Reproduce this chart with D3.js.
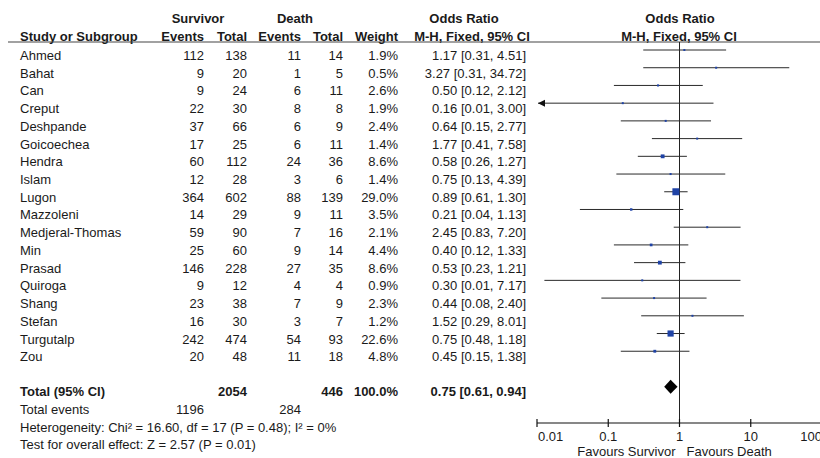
<!DOCTYPE html>
<html>
<head>
<meta charset="utf-8">
<script src="https://cdn.jsdelivr.net/npm/d3@7"></script>
<style>
  body { margin: 0; background: #fff; }
  svg text { font-family: Arial, "Liberation Sans", sans-serif; font-size: 13px; fill: #1a1a1a; }
  .bold { font-weight: bold; }
</style>
</head>
<body>
<svg id="main" width="820" height="458"></svg>
<script>
// data
var studies = ["Ahmed", "Bahat", "Can", "Creput", "Deshpande", "Goicoechea", "Hendra", "Islam", "Lugon",
  "Mazzoleni", "Medjeral-Thomas", "Min", "Prasad", "Quiroga", "Shang", "Stefan", "Turgutalp", "Zou"];
var survivorEvents = [112, 9, 9, 22, 37, 17, 60, 12, 364, 14, 59, 25, 146, 9, 23, 16, 242, 20];
var survivorTotal = [138, 20, 24, 30, 66, 25, 112, 28, 602, 29, 90, 60, 228, 12, 38, 30, 474, 48];
var deathEvents = [11, 1, 6, 8, 6, 6, 24, 3, 88, 9, 7, 9, 27, 4, 7, 3, 54, 11];
var deathTotal = [14, 5, 11, 8, 9, 11, 36, 6, 139, 11, 16, 14, 35, 4, 9, 7, 93, 18];
var weights = [1.9, 0.5, 2.6, 1.9, 2.4, 1.4, 8.6, 1.4, 29.0, 3.5, 2.1, 4.4, 8.6, 0.9, 2.3, 1.2, 22.6, 4.8];
var oddsRatio = [1.17, 3.27, 0.50, 0.16, 0.64, 1.77, 0.58, 0.75, 0.89, 0.21, 2.45, 0.40, 0.53, 0.30, 0.44, 1.52, 0.75, 0.45];
// Creput and Quiroga lower bounds print as 0.01 but sit either side of the axis limit
var ciLower = [0.31, 0.31, 0.12, 0.0085, 0.15, 0.41, 0.26, 0.13, 0.61, 0.04, 0.83, 0.12, 0.23, 0.0127, 0.08, 0.29, 0.48, 0.15];
var ciUpper = [4.51, 34.72, 2.12, 3.00, 2.77, 7.58, 1.27, 4.39, 1.30, 1.13, 7.20, 1.33, 1.21, 7.17, 2.40, 8.01, 1.18, 1.38];

var total = { survivor: 2054, death: 446, weight: 100.0, or: 0.75, lower: 0.61, upper: 0.94 };
var totalEvents = [1196, 284];
var footnotes = [
  "Heterogeneity: Chi\u00b2 = 16.60, df = 17 (P = 0.48); I\u00b2 = 0%",
  "Test for overall effect: Z = 2.57 (P = 0.01)"
];
var tickValues = [0.01, 0.1, 1, 10, 100];
var tickLabels = ["0.01", "0.1", "1", "10", "100"];

var svg = d3.select("#main");
var f2 = d3.format(".2f");
var f1 = d3.format(".1f");

// column right edges
var col = { name: 20, sEv: 204, sTot: 247, dEv: 301, dTot: 343, weight: 398, or: 526 };

var x = d3.scaleLog().domain([0.01, 100]).range([537, 822]);
var rowStep = 17.72;
function rowY(i) { return 50 + i * rowStep; }
var textDy = 10;
var boxSize = d3.scaleSqrt().domain([0, 29]).range([0, 7]);

var axisY = 423;
var headerLine = 42;

function txt(x0, y0, s, anchor, bold) {
  return svg.append("text")
    .attr("x", x0).attr("y", y0)
    .attr("text-anchor", anchor || "start")
    .attr("class", bold ? "bold" : null)
    .text(s);
}

// headers
txt(198, 23, "Survivor", "middle", true);
txt(295, 23, "Death", "middle", true);
txt(464, 23, "Odds Ratio", "middle", true);
txt(680, 23, "Odds Ratio", "middle", true);
txt(col.name, 41, "Study or Subgroup", "start", true);
txt(col.sEv, 41, "Events", "end", true);
txt(col.sTot, 41, "Total", "end", true);
txt(col.dEv, 41, "Events", "end", true);
txt(col.dTot, 41, "Total", "end", true);
txt(col.weight, 41, "Weight", "end", true);
txt(472, 41, "M-H, Fixed, 95% CI", "middle", true);
txt(679, 41, "M-H, Fixed, 95% CI", "middle", true);

svg.append("line")
  .attr("x1", 8).attr("x2", 820)
  .attr("y1", headerLine).attr("y2", headerLine)
  .attr("stroke", "#444").attr("stroke-width", 1.2);

// line of no effect
svg.append("line")
  .attr("x1", x(1)).attr("x2", x(1))
  .attr("y1", headerLine).attr("y2", axisY)
  .attr("stroke", "#222").attr("stroke-width", 1);

// study rows
var rows = svg.append("g").attr("class", "rows")
  .selectAll("g")
  .data(studies.map(function(s, i) {
    return {
      name: s, sEv: survivorEvents[i], sTot: survivorTotal[i], dEv: deathEvents[i], dTot: deathTotal[i],
      w: weights[i], or: oddsRatio[i], lo: ciLower[i], hi: ciUpper[i], i: i
    };
  }))
  .enter()
  .append("g");

rows.each(function(d) {
  var g = d3.select(this);
  var yt = rowY(d.i) + textDy;
  var cells = [
    [col.name, d.name, "start"],
    [col.sEv, d.sEv, "end"],
    [col.sTot, d.sTot, "end"],
    [col.dEv, d.dEv, "end"],
    [col.dTot, d.dTot, "end"],
    [col.weight, f1(d.w) + "%", "end"],
    [col.or, f2(d.or) + " [" + f2(d.lo) + ", " + f2(d.hi) + "]", "end"]
  ];
  cells.forEach(function(c) {
    g.append("text").attr("x", c[0]).attr("y", yt).attr("text-anchor", c[2]).text(c[1]);
  });

  var y0 = rowY(d.i);
  var clipped = d.lo < x.domain()[0];
  var x1 = clipped ? x(x.domain()[0]) + 1 : x(d.lo);
  g.append("line")
    .attr("x1", x1).attr("x2", x(Math.min(d.hi, 100)))
    .attr("y1", y0).attr("y2", y0)
    .attr("stroke", "#2a2a2a").attr("stroke-width", 1);
  if (clipped) {
    g.append("path")
      .attr("d", "M" + x1 + "," + y0 + "l7,-3.5l0,7z")
      .attr("fill", "#111");
  }
  var s = Math.max(2, boxSize(d.w));
  g.append("rect")
    .attr("x", x(d.or) - s / 2).attr("y", y0 - s / 2)
    .attr("width", s).attr("height", s)
    .attr("fill", "#1f43a6");
});

// total row
var yTot = rowY(19);
txt(col.name, yTot + 9, "Total (95% CI)", "start", true);
txt(col.sTot, yTot + 9, total.survivor, "end", true);
txt(col.dTot, yTot + 9, total.death, "end", true);
txt(col.weight, yTot + 9, f1(total.weight) + "%", "end", true);
txt(col.or, yTot + 9, f2(total.or) + " [" + f2(total.lower) + ", " + f2(total.upper) + "]", "end", true);

svg.append("path")
  .attr("d", "M" + x(total.lower) + "," + yTot +
    "L" + x(total.or) + "," + (yTot - 7) +
    "L" + x(total.upper) + "," + yTot +
    "L" + x(total.or) + "," + (yTot + 7) + "Z")
  .attr("fill", "#000");

txt(col.name, rowY(20) + 9.5, "Total events");
txt(col.sEv, rowY(20) + 9.5, totalEvents[0], "end");
txt(col.dEv, rowY(20) + 9.5, totalEvents[1], "end");
footnotes.forEach(function(s, k) {
  txt(col.name, rowY(21 + k) + 9.5, s);
});

// axis
var axis = svg.append("g").attr("class", "axis");
axis.append("line")
  .attr("x1", x(0.01)).attr("x2", 820)
  .attr("y1", axisY).attr("y2", axisY)
  .attr("stroke", "#111").attr("stroke-width", 1.2);
axis.selectAll("line.tick")
  .data(tickValues)
  .enter()
  .append("line")
  .attr("class", "tick")
  .attr("x1", function(d) { return x(d); })
  .attr("x2", function(d) { return x(d); })
  .attr("y1", axisY - 4).attr("y2", axisY + 4)
  .attr("stroke", "#111").attr("stroke-width", 1.2);
var last = tickValues.length - 1;
axis.selectAll("text")
  .data(tickValues)
  .enter()
  .append("text")
  .attr("x", function(d, i) { return i === 0 ? x(d) + 1 : x(d); })
  .attr("y", 441)
  .attr("text-anchor", function(d, i) { return i === 0 ? "start" : (i === last ? "end" : "middle"); })
  .text(function(d, i) { return tickLabels[i]; });

txt(x(1) - 4, 456, "Favours Survivor", "end");
txt(x(1) + 7, 456, "Favours Death", "start");
</script>
</body>
</html>
